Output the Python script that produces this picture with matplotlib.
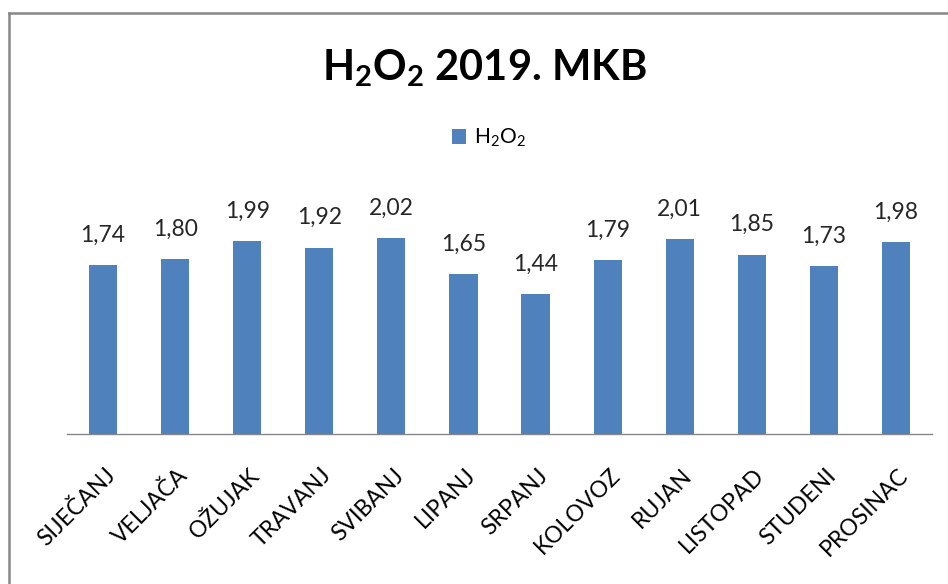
import matplotlib
matplotlib.use("Agg")
import matplotlib.pyplot as plt
from matplotlib.lines import Line2D
import matplotlib.transforms as mtransforms

months = ["SIJEČANJ", "VELJAČA", "OŽUJAK", "TRAVANJ", "SVIBANJ", "LIPANJ",
          "SRPANJ", "KOLOVOZ", "RUJAN", "LISTOPAD", "STUDENI", "PROSINAC"]
values = [1.74, 1.80, 1.99, 1.92, 2.02, 1.65, 1.44, 1.79, 2.01, 1.85, 1.73, 1.98]
series_name = r"$\mathrm{H_2O_2}$"
title = r"$\mathbf{H_2O_2}$ 2019. MKB"

plt.rcParams['font.family'] = ['Lato', 'DejaVu Sans']
plt.rcParams['mathtext.fontset'] = 'custom'
plt.rcParams['mathtext.rm'] = 'Lato'
plt.rcParams['mathtext.bf'] = 'Lato:bold'
plt.rcParams['mathtext.it'] = 'Lato:italic'

W, H = 948, 584
fig = plt.figure(figsize=(W / 100, H / 100), dpi=100)
fig.patch.set_facecolor('white')

ymax = 2.5
px_per_unit = 97.0
ax_left, ax_right, ax_bottom = 67, 932, 434
ax_top = ax_bottom - ymax * px_per_unit
ax = fig.add_axes([ax_left / W, (H - ax_bottom) / H, (ax_right - ax_left) / W,
                   (ax_bottom - ax_top) / H])

x = list(range(len(months)))
bars = ax.bar(x, values, width=0.39, color="#4F81BD", label=series_name, zorder=2)
ax.set_xlim(-0.5, len(months) - 0.5)
ax.set_ylim(0, ymax)

for s in ['top', 'right', 'left']:
    ax.spines[s].set_visible(False)
ax.spines['bottom'].set_color('#868686')
ax.spines['bottom'].set_linewidth(1.0)
ax.yaxis.set_visible(False)
ax.set_xticks(x)
ax.set_xticklabels(months, rotation=45, ha='right', va='center',
                   rotation_mode='anchor', fontsize=16.5, color='black')
ax.tick_params(axis='x', length=0, pad=0)
offset = mtransforms.ScaledTranslation(9 / 100, -38 / 100, fig.dpi_scale_trans)
for lab in ax.get_xticklabels():
    lab.set_transform(lab.get_transform() + offset)

labels = [f"{v:.2f}".replace('.', ',') for v in values]
ax.bar_label(bars, labels=labels, padding=14, fontsize=16.5, color='#262626')

fig.text(484 / W, 1 - 80 / H, title, ha='center', va='baseline',
         fontsize=30, fontweight='bold', color='black')

ax.legend(handles=[bars], labels=[series_name], loc='center',
          bbox_to_anchor=(489 / W, 1 - 138 / H), bbox_transform=fig.transFigure,
          frameon=False, fontsize=15, handlelength=0.68, handleheight=0.68,
          handletextpad=0.4)

fig.add_artist(Line2D([9 / W, 9 / W], [0, 1 - 13 / H], color='#878787', lw=1.8,
                      transform=fig.transFigure))
fig.add_artist(Line2D([9 / W, 1], [1 - 13 / H, 1 - 13 / H], color='#878787', lw=1.8,
                      transform=fig.transFigure))

fig.savefig("out.png", dpi=100, facecolor='white')
